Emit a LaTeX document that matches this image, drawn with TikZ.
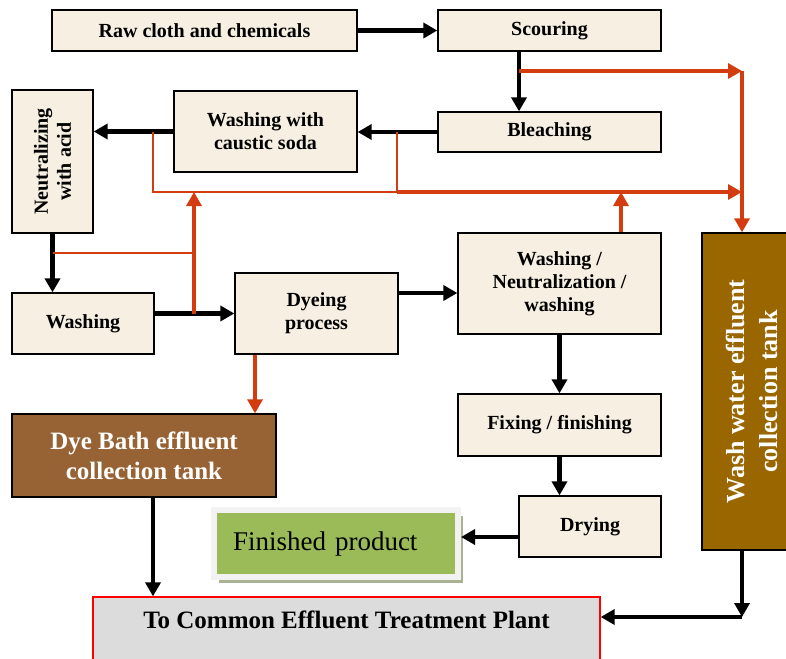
\documentclass[tikz,border=0pt]{standalone}
\usepackage{fontspec}
\setmainfont{Liberation Serif}
\usetikzlibrary{arrows.meta,shadows}

\definecolor{boxcream}{RGB}{246,239,226}
\definecolor{dyebrown}{RGB}{152,99,52}
\definecolor{washbrown}{RGB}{153,102,0}
\definecolor{flowred}{RGB}{210,60,15}
\definecolor{plantgray}{RGB}{220,220,220}
\definecolor{prodgreen}{RGB}{155,187,89}
\definecolor{prodframe}{RGB}{242,242,242}
\definecolor{prodshade}{RGB}{170,178,148}

\begin{document}
\begin{tikzpicture}[x=1pt,y=-1pt,
    procbox/.style={draw,line width=1.3pt,fill=boxcream,align=center,inner sep=2pt,
        font=\fontsize{20}{23}\selectfont\bfseries},
    tankbox/.style={draw,line width=1.3pt,text=white,align=center,inner sep=2pt,
        font=\fontsize{25}{30}\selectfont\bfseries},
    blkarrow/.style={line width=4.5pt,-{Triangle[length=14pt,width=15pt]}},
    redarrow/.style={flowred,line width=3.2pt,-{Triangle[length=14pt,width=15pt]}},
    redline/.style={flowred,line width=1.1pt}]
        \useasboundingbox (0,0) rectangle (786,658);

        % process steps
        \node[procbox,minimum width=305pt,minimum height=41pt] (raw) at (204.5,30.5) {Raw cloth and chemicals};
        \node[procbox,minimum width=223pt,minimum height=41pt] (scour) at (549.5,30.5) {Scouring};
        \node[procbox,minimum width=223pt,minimum height=40pt] (bleach) at (549.5,132) {Bleaching};
        \node[procbox,minimum width=183pt,minimum height=81pt] (caustic) at (265.5,131.5) {Washing with\\caustic soda};
        \node[procbox,rotate=90,minimum width=143pt,minimum height=81pt] (neut) at (52.5,161.5) {Neutralizing\\with acid};
        \node[procbox,minimum width=142pt,minimum height=61pt] (wash) at (83,323.5) {Washing};
        \node[procbox,minimum width=163pt,minimum height=81pt] (dye) at (316.5,313.5) {Dyeing\\process};
        \node[procbox,minimum width=203pt,minimum height=101pt] (wnw) at (559.5,283.5) {Washing /\\Neutralization /\\washing};
        \node[procbox,minimum width=203pt,minimum height=62pt] (fix) at (559.5,425) {Fixing / finishing};
        \node[procbox,minimum width=142pt,minimum height=61pt] (dry) at (590,526.5) {Drying};

        % tanks and outputs
        \node[tankbox,fill=dyebrown,minimum width=264pt,minimum height=83pt] (dyebath) at (144,455.5) {Dye Bath effluent\\collection tank};
        \node[tankbox,fill=washbrown,rotate=90,minimum width=317pt,minimum height=100pt,
              font=\fontsize{26}{33}\selectfont\bfseries] (wtank) at (752,391.5) {Wash water effluent\\collection tank};
        \node[draw=prodframe,line width=6pt,fill=prodgreen,minimum height=67pt,text width=206pt,inner xsep=19pt,
              align=left,font=\fontsize{27}{30}\selectfont,
              drop shadow={shadow xshift=5pt,shadow yshift=-6pt,fill=prodshade,opacity=1}] (fin) at (336,543.5) {Finished product};
        \node[draw=red,line width=1.3pt,fill=plantgray,minimum width=507pt,minimum height=73pt,text depth=28pt,
              font=\fontsize{25}{30}\selectfont\bfseries] (cetp) at (346.5,633.5) {To Common Effluent Treatment Plant};

        % main flow
        \draw[blkarrow] (raw) -- (scour);
        \draw[blkarrow] ([xshift=-30.5pt]scour.south) -- ([xshift=-30.5pt]bleach.north);
        \draw[blkarrow] (bleach.west) -- (bleach.west -| caustic.east);
        \draw[blkarrow] (caustic.west) -- (caustic.west -| neut.south);
        \draw[blkarrow] (neut.west) -- (neut.west |- wash.north);
        \draw[blkarrow] (wash.east |- dye.west) -- (dye.west);
        \draw[blkarrow] ([yshift=20.5pt]dye.east) -- ([yshift=20.5pt]dye.east -| wnw.west);
        \draw[blkarrow] (wnw.south) -- (fix.north);
        \draw[blkarrow] (fix.south) -- (fix.south |- dry.north);
        \draw[blkarrow] ([yshift=-10.5pt]dry.west) -- ([yshift=-10.5pt]dry.west -| fin.east);
        \draw[blkarrow] ([xshift=9pt]dyebath.south) -- ([xshift=9pt]dyebath.south |- cetp.north);

        % wash water lines
        \coordinate (tapA) at (519,71);
        \coordinate (cornerA) at (742,71);
        \draw[redarrow] (tapA) -- (cornerA);
        \draw[redarrow] (cornerA) -- (cornerA |- wtank.east);
        \coordinate (tapB) at (153,131.5);
        \coordinate (tapC) at (397,132);
        \coordinate (cornerB) at (153,192);
        \coordinate (cornerC) at (397,192);
        \draw[redline] (tapB) -- (cornerB) -- (cornerC) -- (tapC);
        \draw[redarrow] (cornerC) -- (cornerC -| cornerA);
        \draw[redarrow] ([xshift=61.5pt]wnw.north) -- ([xshift=61.5pt]wnw.north |- cornerC);
        \coordinate (tapE) at (194,313.5);
        \draw[redarrow] (tapE) -- (tapE |- cornerB);
        \coordinate (tapF) at (52.5,253);
        \draw[redline] (tapF) -- (tapF -| tapE);
        \draw[redarrow] ([xshift=-61.5pt]dye.south) -- ([xshift=-61.5pt]dye.south |- dyebath.north);

        % wash tank to plant
        \coordinate (cornerG) at (742,617);
        \draw[blkarrow] (cornerA |- wtank.west) -- (cornerG);
        \draw[blkarrow] (cornerG) -- (cornerG -| cetp.east);
\end{tikzpicture}
\end{document}
